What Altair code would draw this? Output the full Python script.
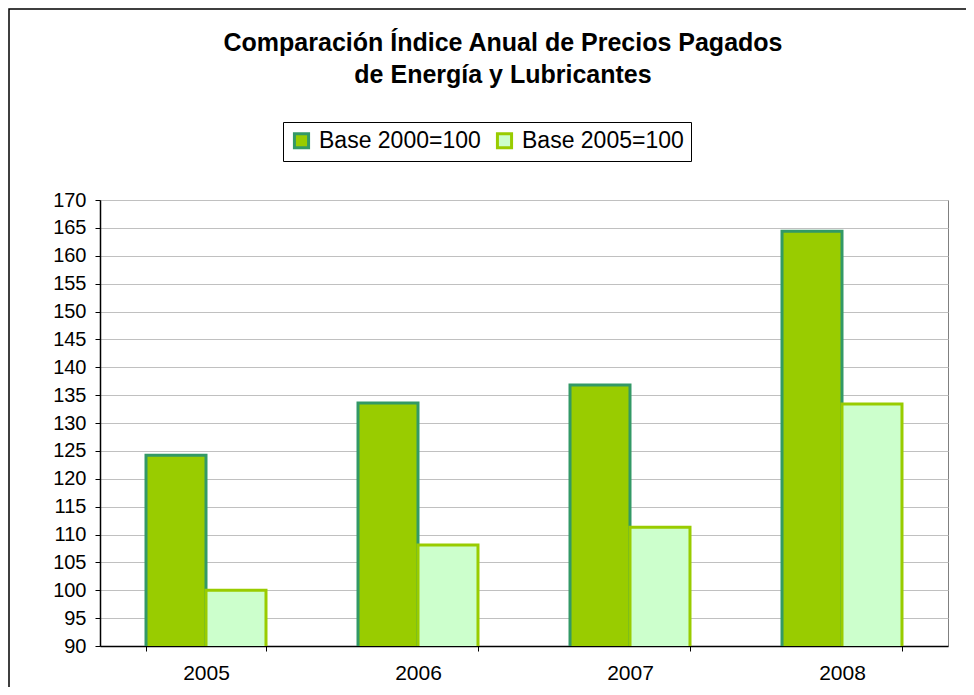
import altair as alt
import pandas as pd

years = ["2005", "2006", "2007", "2008"]
base2000 = [124.2, 133.6, 136.8, 164.4]
base2005 = [100.0, 108.1, 111.3, 133.4]
series = ["Base 2000=100", "Base 2005=100"]
fills = ["#99CC00", "#CCFFCC"]
strokes = ["#339966", "#99CC00"]
y_ticks = list(range(90, 171, 5))

rows = []
for i, y in enumerate(years):
    rows.append({"year": y, "series": series[0], "value": base2000[i]})
    rows.append({"year": y, "series": series[1], "value": base2005[i]})
df = pd.DataFrame(rows)

font = "Liberation Sans"

legend_kw = dict(
    title=None, orient="none", direction="horizontal", legendX=183, legendY=-78,
    strokeColor="black", padding=7, labelFontSize=23, labelFont=font,
    labelColor="black", symbolType="square", symbolSize=200, symbolStrokeWidth=3,
    columnPadding=10, labelOffset=6, fillColor="white", labelLimit=300,
)

bars = alt.Chart(df).mark_bar(strokeWidth=3, strokeJoin="miter", clip=True).encode(
    x=alt.X("year:N", title=None, sort=years,
            scale=alt.Scale(paddingInner=0.434, paddingOuter=0.217),
            axis=alt.Axis(labelAngle=0, tickBand="extent", labelFontSize=21,
                          labelFont=font, labelColor="black", domainColor="black",
                          tickColor="black", tickSize=5, labelPadding=11,
                          domainWidth=1.5)),
    xOffset=alt.XOffset("series:N", sort=series, scale=alt.Scale(paddingInner=0, paddingOuter=0)),
    y=alt.Y("value:Q", title=None,
            scale=alt.Scale(domain=[90, 170], nice=False, zero=False),
            axis=alt.Axis(values=y_ticks, labelFontSize=20, labelFont=font,
                          labelColor="black", domainColor="black", tickColor="black",
                          tickSize=5, gridColor="#c0c0c0", labelPadding=9,
                          domainWidth=1.5)),
    fill=alt.Fill("series:N", sort=series, scale=alt.Scale(domain=series, range=fills),
                  legend=alt.Legend(**legend_kw)),
    stroke=alt.Stroke("series:N", sort=series, scale=alt.Scale(domain=series, range=strokes),
                      legend=alt.Legend(**legend_kw)),
)

frame = alt.Chart(pd.DataFrame({"f": [0]})).mark_rect(
    fill="transparent", stroke="black", strokeWidth=1.5
).encode(
    x=alt.value(-91), x2=alt.value(900), y=alt.value(-191), y2=alt.value(530)
)

chart = alt.layer(bars, frame).properties(
    width=848,
    height=446,
    title=alt.TitleParams(
        text=["Comparación Índice Anual de Precios Pagados", "de Energía y Lubricantes"],
        font=font, fontSize=25, fontWeight="bold", color="black",
        anchor="middle", lineHeight=32, offset=-80, dx=-21,
    ),
    autosize=alt.AutoSizeParams(type="none"),
    padding={"left": 92, "top": 192, "right": 18, "bottom": 41},
    background="white",
).configure_view(
    stroke="#808080", strokeWidth=1
)

chart.save("out.html", embed_options={"renderer": "svg", "actions": False})
